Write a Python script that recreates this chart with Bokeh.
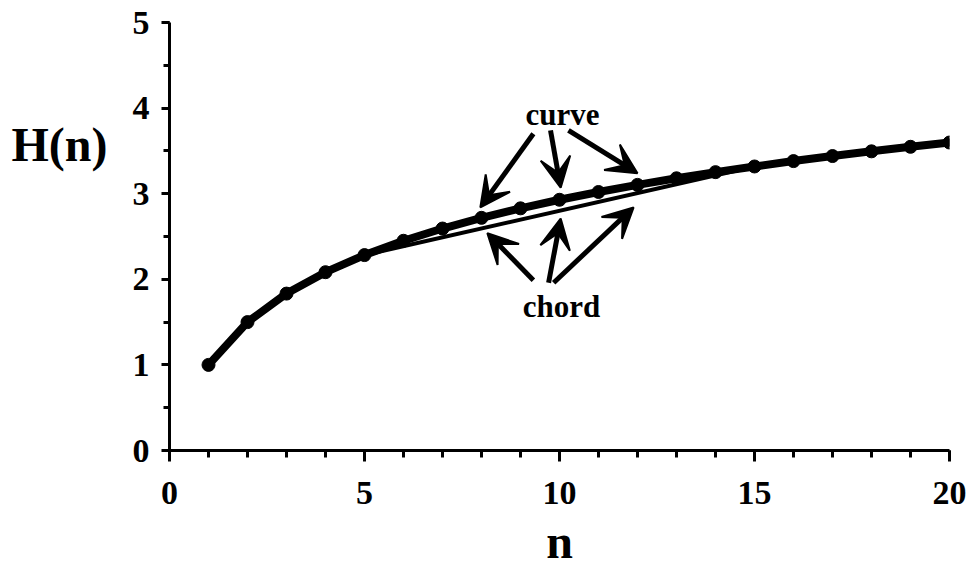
from bokeh.plotting import figure
from bokeh.models import (ColumnDataSource, Arrow, VeeHead, Label, Range1d,
                          SingleIntervalTicker, FixedTicker, LinearAxis)
from bokeh.embed import file_html
from bokeh.resources import INLINE

# Harmonic numbers H(n) = 1 + 1/2 + ... + 1/n
n_values = list(range(1, 21))
h_values = [1.000, 1.500, 1.833, 2.083, 2.283, 2.450, 2.593, 2.718, 2.829, 2.929,
            3.020, 3.103, 3.180, 3.252, 3.318, 3.381, 3.440, 3.495, 3.548, 3.598]

# chord between n = 5 and n = 15
chord_n = [5, 15]

# annotation arrows (start -> end, in data units)
curve_arrow_x0 = [9.33, 9.77, 10.23]
curve_arrow_y0 = [3.70, 3.74, 3.74]
curve_arrow_x1 = [7.97, 10.03, 12.00]
curve_arrow_y1 = [2.84, 3.07, 3.24]

chord_arrow_x0 = [9.33, 9.72, 9.85]
chord_arrow_y0 = [1.99, 1.96, 1.96]
chord_arrow_x1 = [8.15, 10.03, 11.90]
chord_arrow_y1 = [2.54, 2.71, 2.84]

# height at which the horizontal y-axis title sits
y_title_at = 3.58

FONT = "Liberation Serif"

p = figure(width=970, height=571, output_backend="svg", toolbar_location=None,
           x_range=Range1d(0, 20), y_range=Range1d(0, 5),
           min_border_left=169, min_border_right=21,
           min_border_top=22, min_border_bottom=121)
p.outline_line_color = None
p.grid.visible = False
p.background_fill_color = "white"
p.border_fill_color = "white"

# axes
for ax in (p.xaxis[0], p.yaxis[0]):
    ax.axis_line_width = 3
    ax.axis_line_color = "black"
    ax.major_tick_line_width = 3
    ax.minor_tick_line_width = 3
    ax.major_tick_line_color = "black"
    ax.minor_tick_line_color = "black"
    ax.major_label_text_font = FONT
    ax.major_label_text_font_style = "bold"
    ax.major_label_text_font_size = "34px"
    ax.major_label_text_color = "black"
    ax.major_tick_in = 0
    ax.minor_tick_in = 0

p.xaxis.ticker = SingleIntervalTicker(interval=5, num_minor_ticks=5)
p.xaxis.major_tick_out = 11
p.xaxis.minor_tick_out = 7
p.xaxis.major_label_standoff = 20
p.xaxis.axis_label = "n"
p.xaxis.axis_label_text_font = FONT
p.xaxis.axis_label_text_font_style = "bold"
p.xaxis.axis_label_text_font_size = "48px"
p.xaxis.axis_label_text_color = "black"
p.xaxis.axis_label_standoff = 8

p.yaxis.ticker = SingleIntervalTicker(interval=1, num_minor_ticks=2)
p.yaxis.major_tick_out = 8
p.yaxis.minor_tick_out = 6
p.yaxis.major_label_standoff = 12

# horizontal y-axis title: a bare outer axis carrying a single labelled tick
title_axis = LinearAxis(ticker=FixedTicker(ticks=[y_title_at]),
                        major_label_overrides={y_title_at: "H(n)"},
                        axis_line_color=None, major_tick_line_color=None,
                        minor_tick_line_color=None,
                        major_label_standoff=16,
                        major_label_text_font=FONT,
                        major_label_text_font_style="bold",
                        major_label_text_font_size="48px",
                        major_label_text_color="black")
p.add_layout(title_axis, "left")

# harmonic curve with its points
src = ColumnDataSource(dict(n=n_values, h=h_values))
p.line("n", "h", source=src, line_width=8, line_color="black",
       line_join="round", line_cap="round")
p.scatter("n", "h", source=src, size=13, color="black")

# chord
chord_h = [h_values[n_values.index(k)] for k in chord_n]
p.line(chord_n, chord_h, line_width=4, line_color="black")

# arrows
for xs0, ys0, xs1, ys1 in ((curve_arrow_x0, curve_arrow_y0, curve_arrow_x1, curve_arrow_y1),
                           (chord_arrow_x0, chord_arrow_y0, chord_arrow_x1, chord_arrow_y1)):
    asrc = ColumnDataSource(dict(x0=xs0, y0=ys0, x1=xs1, y1=ys1))
    p.add_layout(Arrow(end=VeeHead(size=30, fill_color="black", line_color="black",
                                   line_width=2),
                       x_start="x0", y_start="y0", x_end="x1", y_end="y1",
                       source=asrc, line_width=5, line_color="black"))

p.add_layout(Label(x=10.08, y=3.93, text="curve", text_font=FONT,
                   text_font_style="bold", text_font_size="31px",
                   text_align="center", text_baseline="middle", text_color="black"))
p.add_layout(Label(x=10.05, y=1.68, text="chord", text_font=FONT,
                   text_font_style="bold", text_font_size="31px",
                   text_align="center", text_baseline="middle", text_color="black"))

open("out.html", "w").write(file_html(p, INLINE))
